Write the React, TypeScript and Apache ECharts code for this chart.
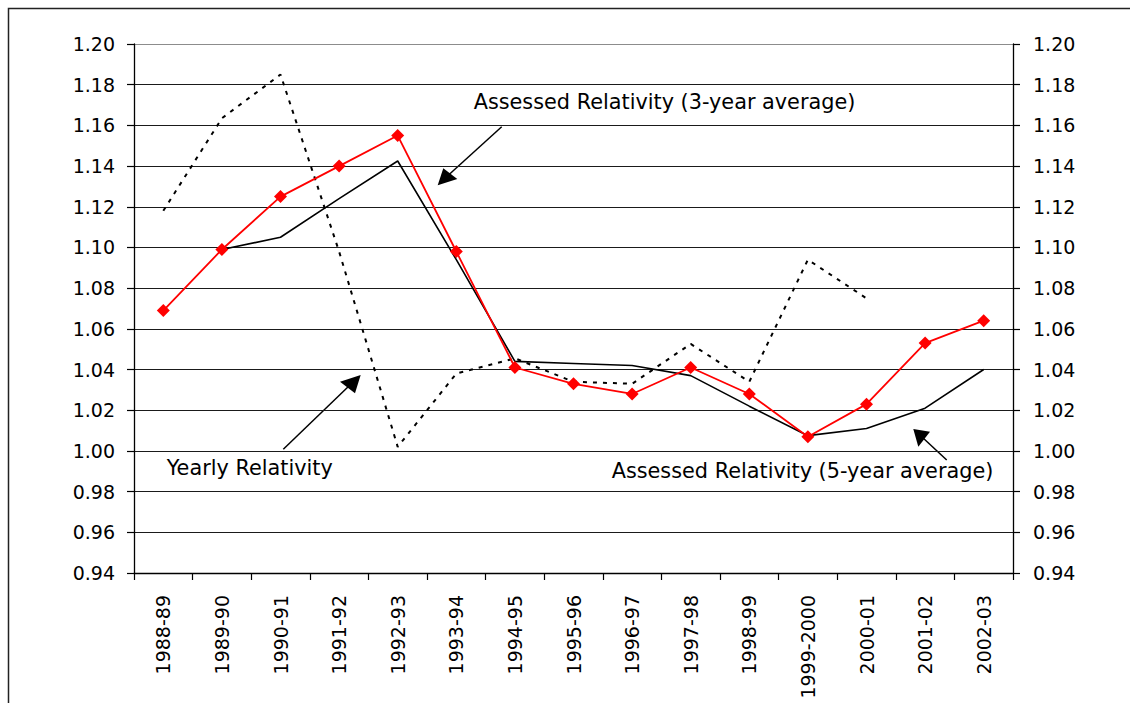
import React, { useEffect, useRef } from "react";
import * as echarts from "echarts";

const categories = [
  "1988-89", "1989-90", "1990-91", "1991-92", "1992-93", "1993-94", "1994-95",
  "1995-96", "1996-97", "1997-98", "1998-99", "1999-2000", "2000-01", "2001-02", "2002-03",
];

const assessed3yr = [
  1.069, 1.099, 1.125, 1.14, 1.155, 1.098, 1.041, 1.033, 1.028, 1.041, 1.028, 1.007, 1.023, 1.053, 1.064,
];

const assessed5yr = [
  null, 1.099, 1.105, 1.124, 1.1425, 1.094, 1.044, 1.043, 1.042, 1.037, 1.022, 1.0075, 1.011, 1.021, 1.04,
];

const yearly = [
  1.118, 1.1635, 1.185, 1.098, 1.002, 1.038, 1.0455, 1.034, 1.033, 1.0526, 1.034, 1.094, 1.075, null, null,
];

const yMin = 0.94;
const yMax = 1.2;
const yStep = 0.02;

const FONT = "DejaVu Sans";

export default function App() {
  const ref = useRef<HTMLDivElement>(null);

  useEffect(() => {
    if (!ref.current) return;
    const chart = echarts.init(ref.current, undefined, { renderer: "svg" });

    const splitColors: string[] = [];
    for (let i = 0; i < 13; i++) splitColors.push("#1a1a1a");
    splitColors.push("#8c8c8c");

    const yAxisCommon = {
      type: "value",
      min: yMin,
      max: yMax,
      interval: yStep,
      axisLine: { show: true, lineStyle: { color: "#000", width: 1.3 } },
      axisTick: { show: true, inside: false, length: 7, lineStyle: { color: "#000", width: 1.2 } },
      axisLabel: {
        color: "#000",
        fontFamily: FONT,
        fontSize: 19,
        formatter: (v: number) => v.toFixed(2),
      },
    };

    chart.setOption({
      animation: false,
      backgroundColor: "#fff",
      grid: { left: 134, right: 117, top: 44, bottom: 130, containLabel: false },
      xAxis: {
        type: "category",
        data: categories,
        boundaryGap: true,
        axisLine: { lineStyle: { color: "#000", width: 1.3 } },
        axisTick: { show: true, interval: 0, alignWithLabel: false, length: 7, lineStyle: { color: "#000", width: 1.2 } },
        axisLabel: {
          interval: 0,
          rotate: 90,
          margin: 22,
          color: "#000",
          fontFamily: FONT,
          fontSize: 19,
        },
        splitLine: { show: false },
      },
      yAxis: [
        {
          ...yAxisCommon,
          position: "left",
          axisLabel: { ...yAxisCommon.axisLabel, margin: 19 },
          splitLine: { show: true, lineStyle: { color: splitColors, width: 1.2 } },
        },
        {
          ...yAxisCommon,
          position: "right",
          axisLabel: { ...yAxisCommon.axisLabel, margin: 20 },
          splitLine: { show: false },
        },
      ],
      series: [
        {
          name: "Yearly Relativity",
          type: "line",
          data: yearly,
          symbol: "none",
          connectNulls: false,
          lineStyle: { color: "#000", width: 2, type: [4, 6] },
          z: 2,
        },
        {
          name: "Assessed Relativity (5-year average)",
          type: "line",
          data: assessed5yr,
          symbol: "none",
          connectNulls: false,
          lineStyle: { color: "#000", width: 1.6 },
          z: 3,
        },
        {
          name: "Assessed Relativity (3-year average)",
          type: "line",
          data: assessed3yr,
          symbol: "diamond",
          symbolSize: 13,
          itemStyle: { color: "#ff0000" },
          lineStyle: { color: "#ff0000", width: 1.8 },
          z: 4,
        },
      ],
      graphic: [
        {
          type: "rect",
          silent: true,
          shape: { x: 8.5, y: 8.5, width: 1300, height: 900 },
          style: { fill: "none", stroke: "#222", lineWidth: 1.5 },
        },
        {
          type: "text",
          style: {
            x: 664.5,
            y: 102,
            text: "Assessed Relativity (3-year average)",
            fontFamily: FONT,
            fontSize: 20.8,
            fill: "#000",
            align: "center",
            verticalAlign: "middle",
          },
        },
        {
          type: "line",
          shape: { x1: 501.7, y1: 126.7, x2: 448, y2: 175.5 },
          style: { stroke: "#000", lineWidth: 1.5 },
        },
        {
          type: "polygon",
          shape: { points: [[437.7, 185.3], [443.3, 168.3], [457.3, 179]] },
          style: { fill: "#000" },
        },
        {
          type: "text",
          style: {
            x: 249.7,
            y: 468,
            text: "Yearly Relativity",
            fontFamily: FONT,
            fontSize: 20.8,
            fill: "#000",
            align: "center",
            verticalAlign: "middle",
          },
        },
        {
          type: "line",
          shape: { x1: 283.3, y1: 449.3, x2: 350, y2: 385 },
          style: { stroke: "#000", lineWidth: 1.5 },
        },
        {
          type: "polygon",
          shape: { points: [[360.7, 375], [340, 381.7], [355, 393.3]] },
          style: { fill: "#000" },
        },
        {
          type: "text",
          style: {
            x: 802.5,
            y: 471,
            text: "Assessed Relativity (5-year average)",
            fontFamily: FONT,
            fontSize: 20.8,
            fill: "#000",
            align: "center",
            verticalAlign: "middle",
          },
        },
        {
          type: "line",
          shape: { x1: 946.7, y1: 460, x2: 922, y2: 437 },
          style: { stroke: "#000", lineWidth: 1.5 },
        },
        {
          type: "polygon",
          shape: { points: [[913.3, 429], [930, 431.7], [918.3, 446.7]] },
          style: { fill: "#000" },
        },
      ],
    });

    return () => {
      chart.dispose();
    };
  }, []);

  return (
    <div
      ref={ref}
      style={{ position: "absolute", left: 0, top: 0, width: 1130, height: 703 }}
    />
  );
}
